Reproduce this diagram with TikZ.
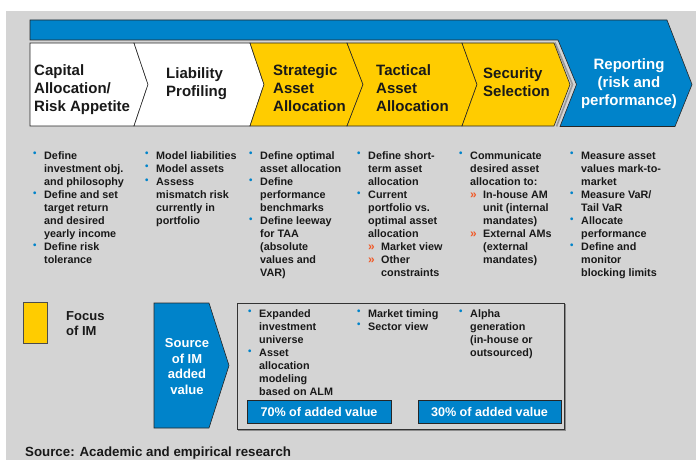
\documentclass[tikz,border=0pt]{standalone}
\usepackage{fontspec}
\setmainfont{Liberation Sans}
\definecolor{ibblue}{RGB}{0,131,202}
\definecolor{ibyellow}{RGB}{255,204,0}
\definecolor{bggray}{RGB}{212,212,212}
\definecolor{subc}{RGB}{240,90,40}
\definecolor{txt}{RGB}{25,25,25}
\newcommand\ttlfont{\fontsize{15}{18}\selectfont\bfseries}
\newcommand\blfont{\fontsize{10.8}{13.1}\selectfont\bfseries}
\newcommand\midfont{\fontsize{13}{15.7}\selectfont\bfseries}
\newcommand\mytab[2][l]{\begin{tabular}[t]{@{}#1@{}}#2\end{tabular}}
\newcommand\bul{\makebox[11pt][l]{\color{ibblue}\raisebox{2.2pt}{\scalebox{0.9}{•}}}}
\newcommand\subb{\makebox[13pt][l]{\color{subc}\scalebox{1.1}{»}}}
\newcommand\sind{\hspace*{13pt}}
\newcommand\blist[1]{\begin{tabular}[t]{@{}l@{}l@{}}#1\end{tabular}}
\tikzset{
  chev/.style={draw=black!85, line width=0.6pt, line join=miter},
  ttl/.style={anchor=base west, inner sep=0pt, font=\ttlfont, text=txt},
  blt/.style={anchor=base west, inner sep=0pt, font=\blfont, text=txt},
  bluebox/.style={fill=ibblue, draw=black!85, line width=0.6pt},
}
\begin{document}
\begin{tikzpicture}[x=1pt,y=-1pt]
\useasboundingbox (0,0) rectangle (696,460);
\fill[white] (0,0) rectangle (696,460);
\fill[bggray] (6,11) rectangle (696,460);

% blue process bar with reporting chevron
\draw[bluebox] (30,20) -- (667,20) -- (692,84.5) -- (675,126.5) -- (560,126.5) -- (576.5,84.5) -- (558,40) -- (30,40) -- cycle;

% shadow of last yellow chevron
\draw[black!40, line width=1.6pt] (555,42.5) -- (572.5,84.5) -- (556.5,126.5);

% chevrons
\draw[chev, fill=white] (30,43) -- (134,43) -- (148,84.5) -- (134,126) -- (30,126) -- cycle;
\draw[chev, fill=white] (134,43) -- (250,43) -- (264,84.5) -- (250,126) -- (134,126) -- (148,84.5) -- cycle;
\draw[chev, fill=ibyellow] (250,43) -- (347,43) -- (363,84.5) -- (347,126) -- (250,126) -- (264,84.5) -- cycle;
\draw[chev, fill=ibyellow] (347,43) -- (462,43) -- (477,84.5) -- (462,126) -- (347,126) -- (363,84.5) -- cycle;
\draw[chev, fill=ibyellow] (462,43) -- (554,43) -- (570,84.5) -- (554,126) -- (462,126) -- (477,84.5) -- cycle;

% chevron titles
\node[ttl] (t1) at (34,75.7) {\mytab{Capital\\Allocation/\\Risk Appetite}};
\node[ttl] (t2) at (166,78.7) {\mytab{Liability\\Profiling}};
\node[ttl] (t3) at (273,75.7) {\mytab{Strategic\\Asset\\Allocation}};
\node[ttl] (t4) at (376,75.7) {\mytab{Tactical\\Asset\\Allocation}};
\node[ttl] (t5) at (483,78.7) {\mytab{Security\\Selection}};
\node[ttl, anchor=base, text=white] (t6) at (629,69.3) {\mytab[c]{Reporting\\(risk and\\performance)}};

% bullet columns
\node[blt] (c1) at (33,159) {\blist{\bul & Define\\ & investment obj.\\ & and philosophy\\ \bul & Define and set\\ & target return\\ & and desired\\ & yearly income\\ \bul & Define risk\\ & tolerance}};
\node[blt] (c2) at (145,159) {\blist{\bul & Model liabilities\\ \bul & Model assets\\ \bul & Assess\\ & mismatch risk\\ & currently in\\ & portfolio}};
\node[blt] (c3) at (249,159) {\blist{\bul & Define optimal\\ & asset allocation\\ \bul & Define\\ & performance\\ & benchmarks\\ \bul & Define leeway\\ & for TAA\\ & (absolute\\ & values and\\ & VAR)}};
\node[blt] (c4) at (357,159) {\blist{\bul & Define short-\\ & term asset\\ & allocation\\ \bul & Current\\ & portfolio vs.\\ & optimal asset\\ & allocation\\ & \subb Market view\\ & \subb Other\\ & \sind constraints}};
\node[blt] (c5) at (459,159) {\blist{\bul & Communicate\\ & desired asset\\ & allocation to:\\ & \subb In-house AM\\ & \sind unit (internal\\ & \sind mandates)\\ & \subb External AMs\\ & \sind (external\\ & \sind mandates)}};
\node[blt] (c6) at (570,159) {\blist{\bul & Measure asset\\ & values mark-to-\\ & market\\ \bul & Measure VaR/\\ & Tail VaR\\ \bul & Allocate\\ & performance\\ \bul & Define and\\ & monitor\\ & blocking limits}};

% legend
\draw[fill=ibyellow, draw=black!70, line width=0.6pt] (23,302) rectangle (47,343);
\node[anchor=base west, inner sep=0pt, font=\midfont, text=txt] (focus) at (66,320) {\mytab{Focus\\of IM}};

% source pentagon
\draw[bluebox] (154,303) -- (209,303) -- (229,365.5) -- (209,428) -- (154,428) -- cycle;
\node[anchor=base, inner sep=0pt, font=\midfont, text=white] (src) at (187,347.5) {\mytab[c]{Source\\of IM\\added\\value}};

% added value box
\draw[black!45, line width=1.2pt] (565,304) -- (565,430) -- (238,430);
\draw[draw=black!80, line width=0.6pt] (237,303) rectangle (564,429);
\node[blt] (b1) at (248,317) {\blist{\bul & Expanded\\ & investment\\ & universe\\ \bul & Asset\\ & allocation\\ & modeling\\ & based on ALM}};
\node[blt] (b2) at (357,317) {\blist{\bul & Market timing\\ \bul & Sector view}};
\node[blt] (b3) at (459,317) {\blist{\bul & Alpha\\ & generation\\ & (in-house or\\ & outsourced)}};

\draw[bluebox] (247,400) rectangle (391,423);
\node[anchor=base, inner sep=0pt, font=\fontsize{12.6}{15}\selectfont\bfseries, text=white] (p70) at (319,416.5) {70\% of added value};
\draw[bluebox] (418,400) rectangle (561,423);
\node[anchor=base, inner sep=0pt, font=\fontsize{12.6}{15}\selectfont\bfseries, text=white] (p30) at (489.5,416.5) {30\% of added value};

% source line
\node[anchor=base west, inner sep=0pt, font=\fontsize{13.3}{16}\selectfont\bfseries, text=txt] (source) at (25,456.5) {Source: Academic and empirical research};
\end{tikzpicture}
\end{document}
